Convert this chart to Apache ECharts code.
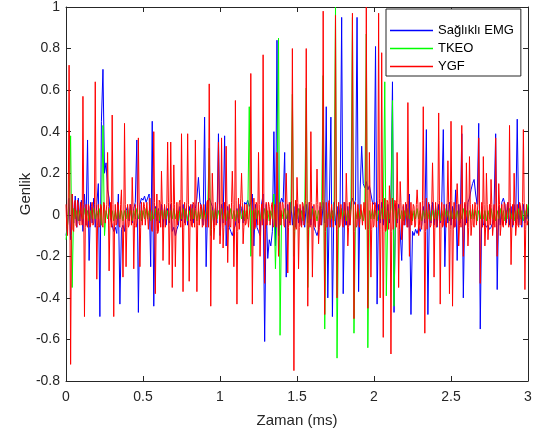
<!DOCTYPE html>
<html><head><meta charset="utf-8">
<script src="https://cdn.jsdelivr.net/npm/echarts@6/dist/echarts.min.js"></script>
<style>html,body{margin:0;padding:0;background:#fff}#c{width:536px;height:434px}</style>
</head><body><div id="c"></div>
<script>
// Sample steps (ms) for each recorded series, all starting at 0 ms
const emgStep = 0.01, tkeoStep = 0.01, ygfStep = 0.005;
const seriesNames = ['Sağlıklı EMG', 'TKEO', 'YGF'];
const xTickLabels = ['0','0.5','1','1.5','2','2.5','3'];
const yTickLabels = ['-0.8','-0.6','-0.4','-0.2','0','0.2','0.4','0.6','0.8','1'];

const emgValues = [
-.1,-.05,.08,-.12,.1,-.04,.09,-.06,.08,-.03,
.07,-.08,.1,-.05,.36,-.22,.06,-.04,.08,-.06,
.05,.15,-.49,.45,.7,.2,.25,.12,.08,-.02,
-.05,-.08,-.06,-.09,.1,-.43,-.07,-.05,-.08,.02,
.04,-.03,.05,-.04,.03,.06,.36,-.47,.05,.08,
.07,.09,.06,.08,.1,-.25,.45,-.44,.04,-.03,
.03,-.04,.05,-.06,.04,-.05,.03,-.04,.05,-.08,
-.06,-.1,-.07,-.05,.04,-.03,.05,-.04,.03,-.05,
.04,-.03,.05,-.04,.03,.08,.18,.06,.04,-.05,
.47,-.25,.05,.08,.06,.04,-.05,.03,-.04,.39,
-.1,.05,-.04,.38,-.15,.04,-.06,-.08,-.1,-.07,
-.05,.03,-.04,.05,.03,-.04,.06,.05,.07,.04,
.06,.1,-.15,.05,-.06,-.08,-.1,.05,.1,-.61,
.05,-.21,-.12,-.15,-.08,.4,-.15,.84,-.1,.05,
.08,.06,.3,-.3,.05,-.04,.06,-.05,.04,-.06,
.05,-.04,.03,-.05,.04,-.06,.05,-.04,.06,-.05,
.04,-.06,-.08,-.1,-.07,.04,-.05,.06,-.04,.52,
-.4,.05,.47,-.49,.06,-.05,.04,-.06,.05,.95,
-.38,.06,-.05,.04,-.05,.06,.08,.05,.07,.95,
-.37,.12,.33,.15,.13,.16,.12,.14,.1,.06,
.05,.81,-.43,.05,-.04,.06,-.05,.04,-.06,.05,
-.04,.06,.64,-.47,.05,-.04,.05,.05,-.22,.04,
-.05,.05,-.06,.1,-.48,-.08,-.1,-.07,-.09,-.06,
-.08,-.05,.04,-.04,.41,-.48,.05,-.04,.06,-.05,
.04,-.06,.05,-.04,.06,.41,-.25,.05,-.04,.06,
-.05,.04,-.06,.12,-.22,.05,-.04,.39,-.4,.05,
-.04,.06,.08,.12,.15,.17,.1,.05,.44,-.55,
.04,-.05,-.04,-.06,-.05,-.07,-.06,-.04,.05,.39,
-.36,.04,-.05,.06,.08,.05,-.04,.06,-.05,.04,
-.06,.05,-.04,.46,-.05,.04,-.06,.05,-.04,.03,
-.02];

const tkeoValues = [
-.12,-.05,.05,.38,-.35,.03,-.02,.02,-.03,.02,
.02,-.02,.03,-.02,.02,-.03,.02,-.02,.03,-.02,
.02,-.02,.03,-.05,.43,-.1,.02,-.02,.03,-.02,
.02,-.03,.02,-.02,.03,-.02,.02,-.03,.02,-.02,
.03,-.02,.02,-.03,.02,-.02,.03,-.02,.02,-.03,
.02,-.02,.03,-.02,.02,-.03,.02,-.02,.03,-.02,
.02,-.03,.02,-.02,.03,-.02,.02,-.03,.02,-.02,
.03,-.02,.02,-.03,.02,-.02,.03,-.02,.02,-.03,
.02,-.02,.03,-.02,.02,-.03,.02,-.02,.03,-.02,
.02,-.02,.03,.32,-.1,.02,-.02,.03,-.02,.02,
-.02,.03,-.02,.02,-.03,.02,-.02,.03,-.02,.02,
-.03,.02,-.02,.03,-.02,.02,-.03,.02,-.02,.52,
-.2,.02,-.02,.03,-.02,.02,-.03,.02,-.02,.03,
-.02,.02,-.03,.02,-.02,.1,-.26,.02,.85,-.58,
.02,-.02,.03,-.02,.02,-.03,.02,.58,-.2,.02,
-.02,.03,-.02,.02,-.03,.02,.61,-.35,.02,-.02,
.03,-.02,.02,-.03,.02,-.02,.03,.67,-.55,.02,
-.02,.03,-.02,.02,-.03,1,-.69,.02,-.02,.03,
-.02,.02,-.03,.02,-.02,.03,.95,-.57,.02,-.02,
.03,-.02,.02,-.03,.02,.87,-.64,.02,-.02,.03,
-.02,.02,-.03,.02,-.02,.03,-.02,.64,-.39,.02,
-.02,.03,.55,-.44,.02,-.02,.03,-.02,.02,-.03,
.02,-.02,.03,-.02,.02,-.03,.02,-.02,.03,-.02,
.02,-.03,.02,-.02,.03,-.02,.02,-.03,.02,-.02,
.03,-.02,.02,-.03,.02,-.02,.03,-.02,.02,-.03,
.02,-.02,.03,-.02,.02,-.03,.02,-.02,.03,-.02,
.02,-.03,.02,-.02,.03,-.02,.02,-.03,.02,-.02,
.03,-.02,.02,-.03,.02,-.02,.03,-.02,.02,-.03,
.02,-.02,.03,-.02,.02,-.03,.02,-.02,.03,-.02,
.02,-.03,.02,-.02,.03,-.02,.02,-.03,.02,-.02,
.05];

const ygfValues = [
.05,-.06,-.1,.08,.72,.1,-.72,-.1,.1,-.07,-.08,.06,.07,-.05,-.06,.07,.05,-.04,-.05,.06,
.06,-.05,.57,.05,-.49,-.06,.05,-.05,-.06,.05,.04,-.06,-.05,.04,.06,-.05,-.04,.05,.64,.06,
-.31,-.05,.05,-.06,-.05,.05,.04,-.05,-.06,.06,.05,-.04,-.04,.05,.3,.04,-.27,-.05,.06,-.06,
.48,.05,-.49,-.06,.05,-.05,-.04,.06,.05,-.05,-.06,.05,.12,-.06,-.3,-.05,.44,.05,-.25,-.06,
.05,-.06,-.05,.05,.04,-.05,.18,.04,-.26,-.05,.05,-.06,-.04,.05,.37,.05,-.25,-.06,.06,-.05,
-.05,.06,.04,-.05,-.05,.06,.06,-.07,-.07,.08,.08,-.07,-.08,.07,.4,.06,-.38,-.08,.1,-.09,
-.08,.07,.06,-.06,.21,.05,-.22,-.05,.05,-.06,-.06,.05,.35,.06,-.24,-.05,.35,.06,-.35,-.06,
.24,.05,-.25,-.06,.06,-.05,-.05,.06,.07,-.06,.39,.05,-.37,-.06,.06,-.05,-.05,.06,.39,.05,
-.32,-.06,.05,-.05,-.06,.06,.05,-.06,.36,.05,-.37,-.05,.06,-.05,-.05,.05,.04,-.06,-.05,.05,
.05,-.05,-.06,.06,.07,-.06,.63,.07,-.44,-.07,.2,.06,-.12,-.06,.06,-.05,-.05,.06,.35,.05,
-.14,-.05,.37,.06,-.16,-.06,.06,-.05,.33,.05,-.23,-.06,.05,-.05,-.06,.06,.21,.05,-.25,-.06,
.55,.07,-.43,-.08,.08,-.07,-.07,.08,.2,.06,-.14,-.06,.05,-.05,-.04,.05,.05,-.06,-.06,.05,
.68,.08,-.43,-.08,.08,-.07,-.06,.06,.05,-.05,.3,.05,-.2,-.06,.05,-.05,.77,.06,-.33,-.07,
.06,-.05,-.05,.06,.04,-.05,-.05,.05,.06,-.06,-.05,.05,.05,-.06,.3,.05,-.2,-.05,.06,-.05,
-.05,.06,.05,-.05,-.06,.06,.2,.05,-.28,-.06,.06,-.05,-.05,.07,.8,.08,-.75,-.08,.07,-.07,
.18,.06,-.26,-.06,.05,-.05,-.06,.06,.05,-.05,-.05,.07,.8,.08,-.44,-.07,.06,-.06,.4,.06,
-.3,-.06,.05,-.05,-.06,.06,.22,.05,-.14,-.06,.06,-.05,-.05,.07,.98,.08,-.48,-.08,.06,-.06,
-.05,.06,.07,-.06,-.06,.05,.05,-.06,-.06,.07,.96,.08,-.4,-.07,.06,-.06,-.05,.05,.05,-.05,
-.06,.06,.05,-.05,.2,.06,-.15,-.06,.06,-.05,-.05,.07,.97,.08,-.5,-.08,.06,-.06,-.05,.05,
.05,-.06,-.06,.05,.05,-.05,-.05,.06,.06,-.07,1,.08,-.45,-.07,.3,.06,-.3,-.07,.06,-.06,
-.05,.06,.05,-.06,-.06,.07,.97,.08,-.4,-.07,.78,.08,-.59,-.08,.08,-.08,-.07,.07,.06,-.07,
.14,.07,-.67,-.08,.08,-.07,-.07,.07,.06,-.06,.3,.06,-.35,-.07,.16,.06,-.12,-.06,.05,-.05,
-.05,.06,.06,-.06,.54,.07,-.2,-.06,.06,-.05,-.05,.05,.04,-.06,-.05,.05,.12,.05,-.1,-.05,
.06,-.06,-.07,.07,.52,.07,-.57,-.08,.08,-.07,-.07,.06,.06,-.06,-.05,.05,.25,.06,-.3,-.06,
.06,-.06,-.05,.06,.49,.07,-.43,-.07,.06,-.06,-.05,.05,.05,-.05,-.06,.06,.26,.05,-.38,-.07,
.45,.07,-.44,-.07,.06,-.06,-.05,.05,.15,.05,-.15,-.05,.05,-.06,.43,.06,-.2,-.06,.06,-.05,
.25,.05,-.15,-.06,.28,.05,-.1,-.05,.05,-.05,-.06,.06,.05,-.05,-.05,.06,.37,.07,-.33,-.07,
.06,-.06,.28,.05,-.15,-.06,.2,.05,-.12,-.05,.05,-.05,.17,.05,-.1,-.05,.05,-.06,.37,.06,
-.2,-.06,.15,.05,-.1,-.05,.05,-.05,-.06,.06,.05,-.05,-.05,.05,.06,-.06,.43,.06,-.24,-.06,
.05,-.05,.2,.05,-.1,-.05,.05,-.05,-.06,.06,.05,-.05,-.05,.06,.41,.06,-.36,-.07,.05,-.05,
-.03];

const colors = ['#0000ff', '#00ff00', '#ff0000'];
const font = "'Liberation Sans', Arial, Helvetica, sans-serif";
const axisColor = '#262626';

function toPairs(vals, step) { return vals.map((v, i) => [i * step, v]); }

const xMin = 0, xMax = 3, xInt = 0.5, yMin = -0.8, yMax = 1, yInt = 0.2;
const xFmt = v => xTickLabels[Math.round((v - xMin) / xInt)] || '';
const yFmt = v => yTickLabels[Math.round((v - yMin) / yInt)] || '';

function xAx(pos, main) {
  return {
    type: 'value', position: pos, min: xMin, max: xMax, interval: xInt,
    axisLine: { onZero: false, lineStyle: { color: axisColor, width: 1 } },
    axisTick: { inside: true, length: 5, lineStyle: { color: axisColor } },
    axisLabel: { show: main, formatter: xFmt, fontSize: 14, color: axisColor, fontFamily: font, margin: 9 },
    splitLine: { show: false },
    name: main ? 'Zaman (ms)' : '', nameLocation: 'middle', nameGap: 32, nameMoveOverlap: false,
    nameTextStyle: { fontSize: 15, color: axisColor, fontFamily: font }
  };
}
function yAx(pos, main) {
  return {
    type: 'value', position: pos, min: yMin, max: yMax, interval: yInt,
    axisLine: { show: true, onZero: false, lineStyle: { color: axisColor, width: 1 } },
    axisTick: { show: true, inside: true, length: 5, lineStyle: { color: axisColor } },
    axisLabel: { show: main, formatter: yFmt, fontSize: 14, color: axisColor, fontFamily: font, margin: 6 },
    splitLine: { show: false },
    name: main ? 'Genlik' : '', nameLocation: 'middle', nameGap: 33, nameMoveOverlap: false,
    nameTextStyle: { fontSize: 15, color: axisColor, fontFamily: font }
  };
}

const seriesData = [toPairs(emgValues, emgStep), toPairs(tkeoValues, tkeoStep), toPairs(ygfValues, ygfStep)];
const chart = echarts.init(document.getElementById('c'), null, { renderer: 'canvas' });
chart.setOption({
  backgroundColor: '#fff',
  animation: false,
  grid: { left: 66, right: 8, top: 5, bottom: 53, containLabel: false },
  xAxis: [xAx('bottom', true), xAx('top', false)],
  yAxis: [yAx('left', true), yAx('right', false)],
  legend: {
    orient: 'vertical', left: 386, top: 9,
    padding: [15, 7, 3, 4], itemGap: 5,
    itemWidth: 43, itemHeight: 1.5, icon: 'rect',
    backgroundColor: '#fff', borderColor: axisColor, borderWidth: 1,
    textStyle: { fontSize: 13, color: '#000', fontFamily: font },
    data: seriesNames
  },
  series: seriesNames.map((name, k) => ({
    name, type: 'line', xAxisIndex: 0, yAxisIndex: 0,
    data: seriesData[k],
    symbol: 'none', showSymbol: false,
    lineStyle: { width: 1, color: colors[k] },
    itemStyle: { color: colors[k] },
    emphasis: { disabled: true }
  }))
});
</script></body></html>
